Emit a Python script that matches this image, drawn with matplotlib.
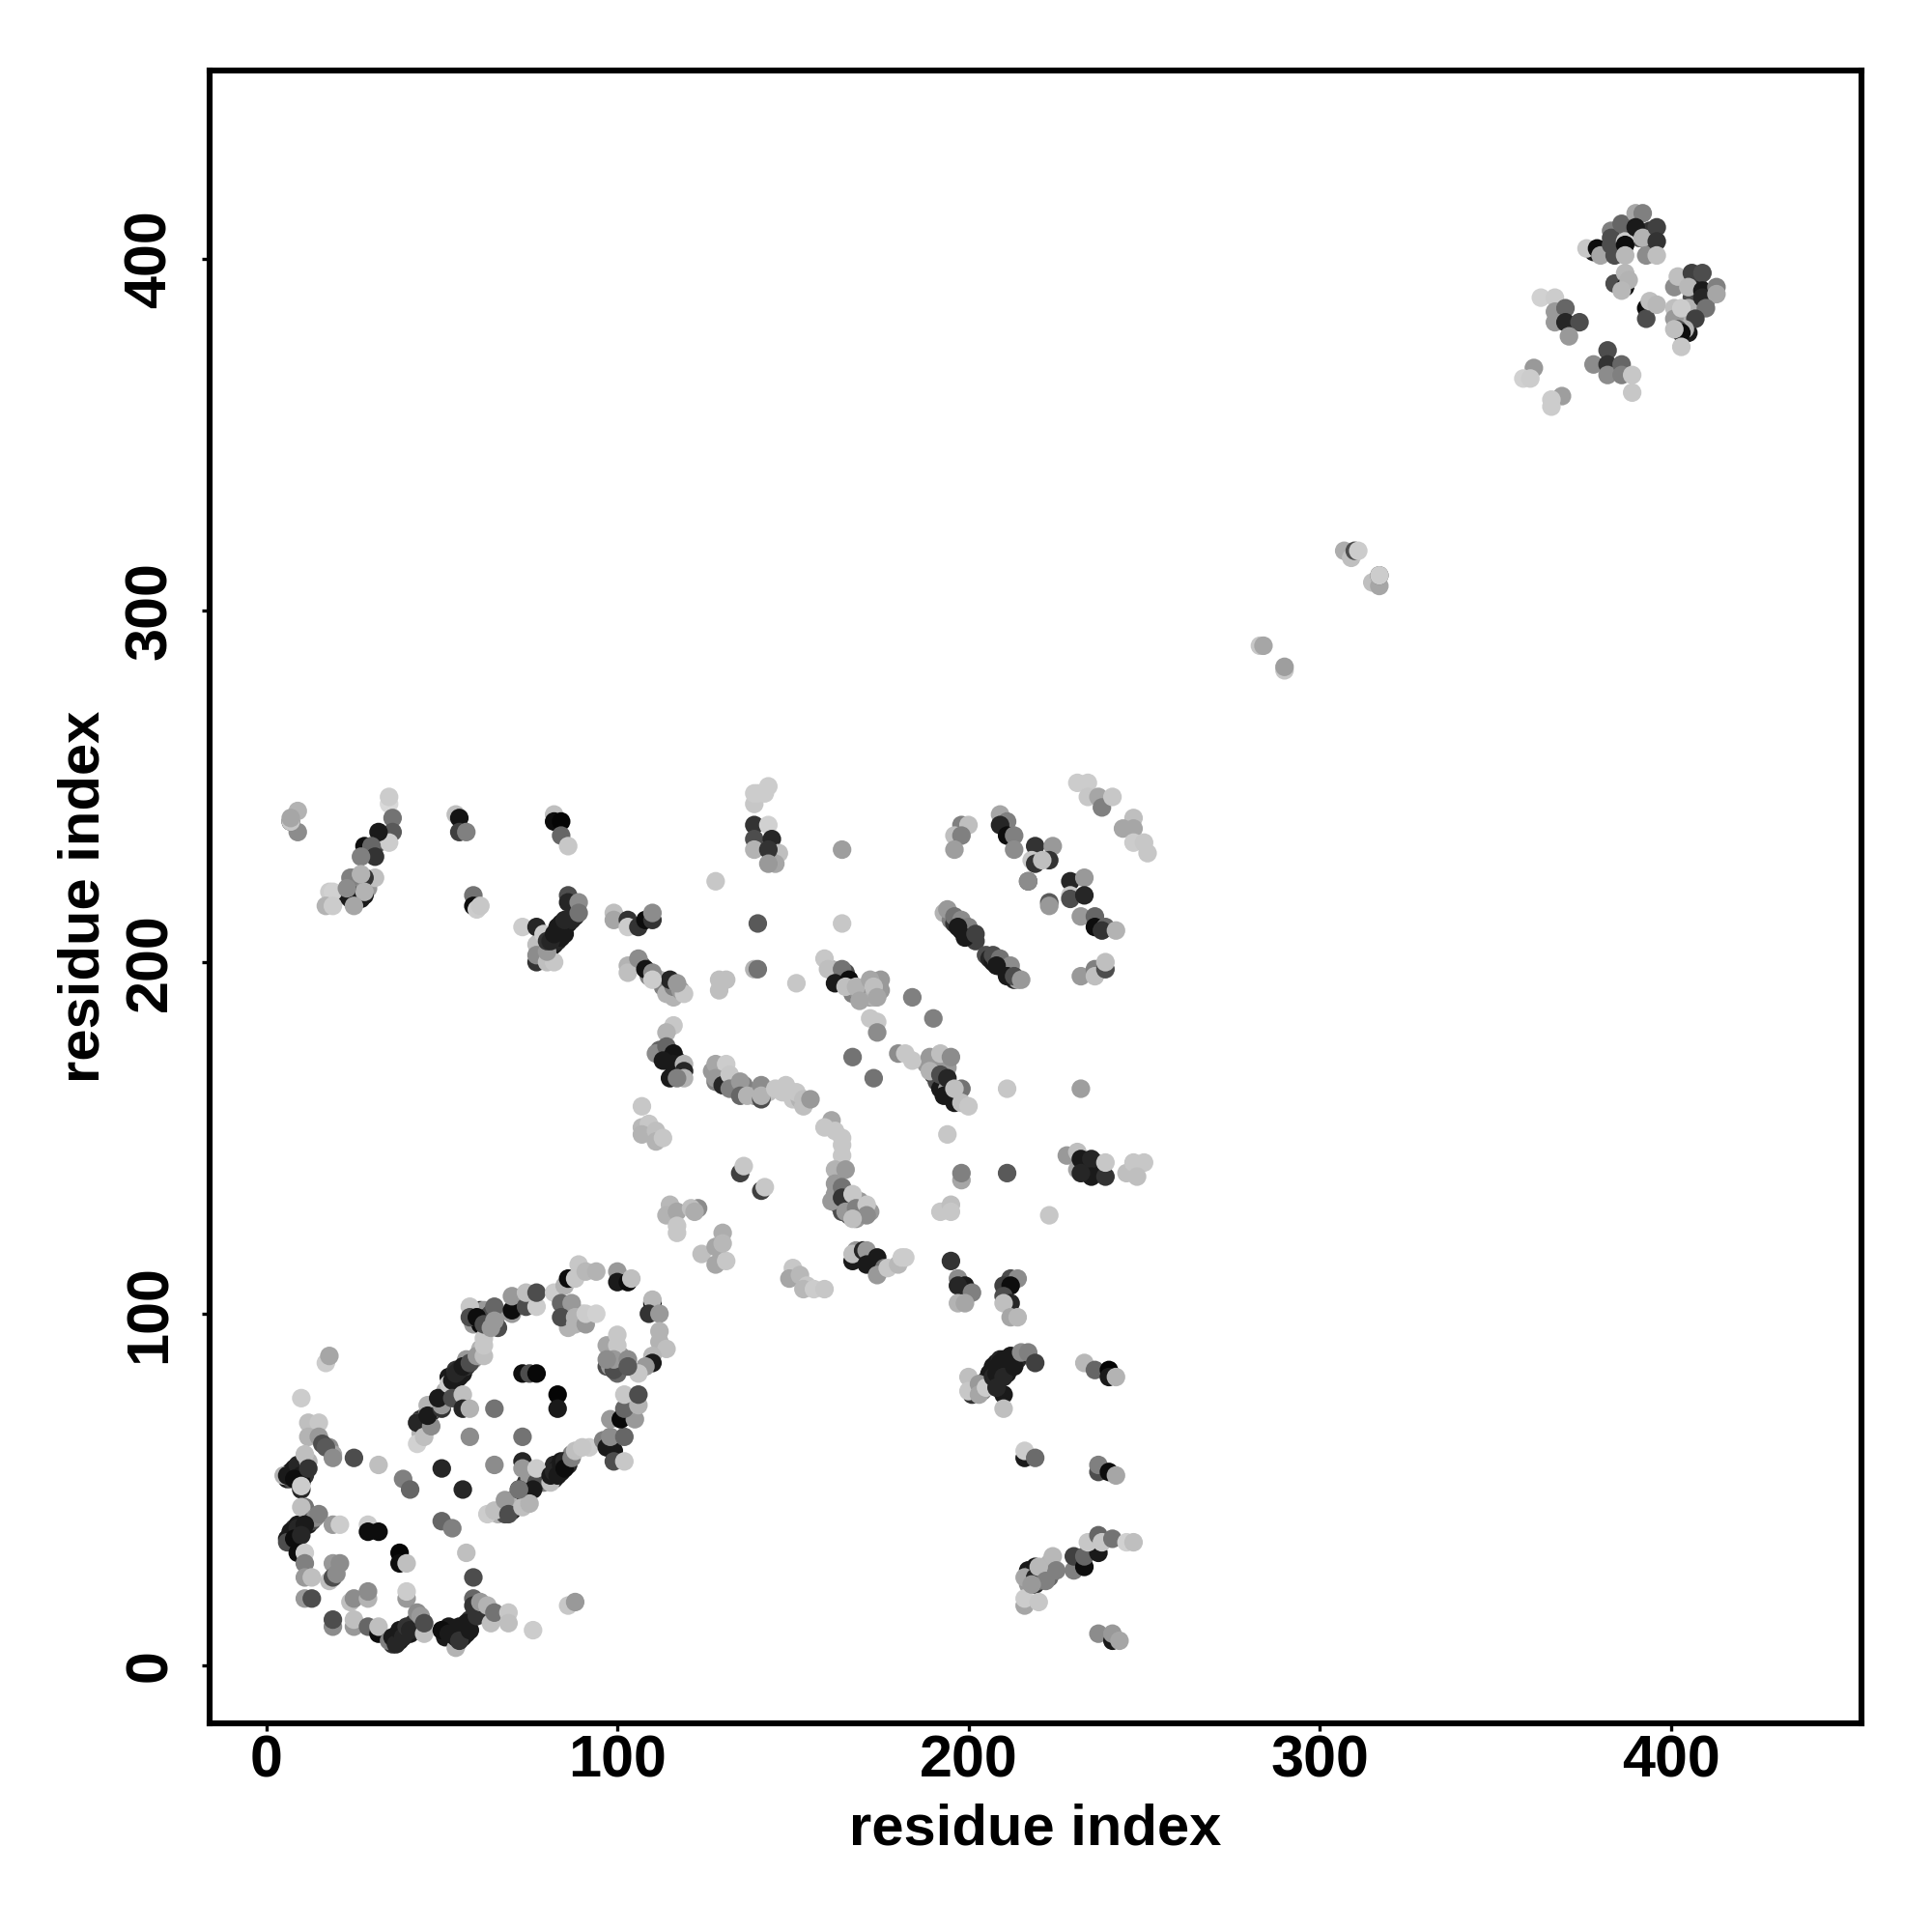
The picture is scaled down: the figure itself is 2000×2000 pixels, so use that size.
import numpy as np
import matplotlib
matplotlib.use('Agg')
import matplotlib.pyplot as plt

plt.rcParams['font.family'] = ['Liberation Sans', 'DejaVu Sans']
plt.rcParams['font.weight'] = 'bold'

# under layer, the contacts that are mostly hidden inside the dense bands
u1_x = [6,7,8,9,9,7,11,11,7,8,9,10,8,9,12,12]
u1_y = [53,55,55,55,53,53,56,54,36,38,37,39,39,40,42,40]
u1_g = [.1,.1,.1,.15,.1,.3,.2,.2,.1,.1,.1,.1,.2,.1,.3,.1]

u2_x = [36,37,38,39,40,41,42,51,52,53,54,56,56,57,58,60,61]
u2_y = [6,8,7,10,9,9,12,8,11,8,10,8,10,9,13,16,15]
u2_g = [.2,.1,.1,.1,.15,.1,.2,.1,.1,.1,.1,.1,.1,.1,.2,.3,.6]

u3_x = [44,44,45,46,47,48,49,51,52,53,54,54,55,56,57,57,59,61]
u3_y = [66,70,68,72,72,73,75,78,82,80,81,84,82,83,85,87,87,90]
u3_g = [.7,.2,.6,.5,.1,.7,.7,.7,.1,.1,.1,.2,.1,.1,.2,.6,.6,.7]

u4_x = [59,61,61,62,63,64,66,66]
u4_y = [97,101,97,101,99,100,100,96]
u4_g = [.6,.2,.05,.6,.1,.3,.6,.3]

u5_x = [78,79,80,81,82,82,83,84,84,86,86,87]
u5_y = [52,52,54,55,53,57,56,55,58,57,58,60]
u5_g = [.75,.5,.1,.1,.1,.15,.1,.1,.1,.15,.2,.5]

u6_x = [66,67,68,70,70,71,72,74,74,75,75,77]
u6_y = [43,44,43,44,47,47,46,48,52,50,53,52]
u6_g = [.7,.6,.3,.1,.5,.1,.7,.1,.2,.75,.6,.3]

u7_x = [81,82,83,83,84,85,85,86,87,88,80,79,78]
u7_y = [204,205,206,208,207,208,210,211,212,213,201,205,206]
u7_g = [.1,.1,.15,.1,.1,.1,.1,.1,.15,.15,.6,.2,.7]

u8_x = [22,24,26,27,29,26,27,24,25,29,32,33]
u8_y = [219,218,218,218,221,222,222,222,221,232,234,236]
u8_g = [.7,.1,.1,.1,.6,.4,.6,.5,.7,.3,.3,.4]

u9_x = [161,163,164,165,167,167,169,170,171,172,173,175,175]
u9_y = [198,195,194,197,193,191,191,191,192,190,190,195,192]
u9_g = [.7,.15,.7,.3,.1,.5,.6,.4,.2,.6,.7,.6,.6]

u10_x = [112,113,114,115,116,117,117,116,118,118]
u10_y = [175,173,172,173,172,172,170,168,170,168]
u10_g = [.4,.1,.1,.3,.1,.4,.6,.1,.1,.6]

u11_x = [127,128,129,130,130,131,133,134,136,137,139,143,147,150,152]
u11_y = [169,166,168,166,168,166,165,164,165,163,162,163,163,161,161]
u11_g = [.6,.5,.1,.5,.3,.2,.3,.6,.5,.5,.6,.75,.78,.78,.7]

u12_x = [163,164,165,166,166,167,168,169,170,169,172,162,161]
u12_y = [131,129,132,131,128,130,127,130,129,132,129,134,132]
u12_g = [.5,.3,.1,.5,.3,.2,.6,.3,.5,.6,.6,.6,.6]

u13_x = [188,190,190,191,192,191,193,192,194,195,196,194]
u13_y = [171,172,168,170,171,166,165,164,164,162,160,170]
u13_g = [.6,.3,.2,.4,.6,.3,.2,.1,.6,.3,.1,.6]

u14_x = [193,195,196,198,199,200,201,202,205,206,207,208,209,210,211,212,213,214]
u14_y = [214,212,211,209,209,208,207,206,202,201,200,200,199,198,197,197,195,195]
u14_g = [.7,.5,.2,.1,.45,.2,.3,.25,.3,.15,.1,.5,.1,.55,.2,.5,.15,.65]

u15_x = [205,206,206,207,208,209,209,211,211,213,214,204]
u15_y = [81,83,80,85,86,84,87,85,83,87,87,78]
u15_g = [.15,.1,.1,.1,.1,.1,.15,.1,.1,.1,.15,.5]

u16_x = [233,234,236,236,237,238,107,109,112,113,114,116,116,118,119]
u16_y = [142,141,140,143,140,141,199,196,195,193,191,190,193,192,191]
u16_g = [.1,.1,.3,.1,.1,.1,.3,.5,.7,.5,.7,.7,.5,.6,.78]

u17_x = [378,381,384,385,389,391,394,394,383,385]
u17_y = [402,402,403,405,408,406,408,404,408,402]
u17_g = [.1,.3,.4,.3,.2,.3,.2,.3,.5,.7]

u18_x = [404,407,408,410,402,404,405,404,406,405]
u18_y = [394,394,392,388,382,383,379,384,389,386]
u18_g = [.2,.3,.15,.5,.3,.15,.1,.7,.3,.7]

u19_x = [97,101,101,98,100,86,86,89,90,217,217,218,219,220,220,222,223,223]
u19_y = [85,88,86,85,83,100,96,99,100,23,27,26,23,24,25,26,25,29]
u19_g = [.3,.6,.5,.6,.4,.6,.7,.7,.8,.6,.1,.2,.15,.4,.7,.6,.4,.7]

# each cluster: residue x, residue y, gray level
a1_x = [17,18,10,12,15,12,15,18,19,16,17,19,25,32]
a1_y = [86,88,76,69,69,65,65,62,60,63,62,59,59,57]
a1_g = [.8,.65,.8,.75,.78,.7,.6,.55,.65,.3,.35,.55,.3,.75]

a2_x = [5,6,8,9,10,8,10,10,10,12,11,12]
a2_y = [54,54,56,57,54,53,52,50,51,58,60,56]
a2_g = [.7,.1,.1,.15,.1,.05,.05,.15,.8,.7,.75,.2]

a3_x = [11,10,13,14,15,19,21,6,7,9,11,6,8,10,9,11,11,11,13,11,13]
a3_y = [45,45,41,42,43,40,40,36,38,39,40,35,36,37,32,32,29,25,25,19,19]
a3_g = [.45,.75,.3,.55,.5,.6,.8,.1,.1,.15,.1,.3,.05,.15,.05,.8,.5,.6,.75,.6,.3]

a4_x = [19,21,18,19,20,29,29,32,38,38,40,39,41,50,53,57,59,50,56]
a4_y = [29,29,24,25,26,40,38,38,32,29,29,53,50,41,39,32,25,56,50]
a4_g = [.6,.55,.75,.3,.55,.8,.05,.05,.02,.05,.75,.5,.4,.4,.5,.75,.3,.15,.15]

a5_x = [19,19,24,25,29,29,40,40,25,25,29,32,32]
a5_y = [11,13,18,19,19,21,19,21,11,13,11,9,11]
a5_g = [.55,.3,.75,.55,.7,.55,.6,.8,.6,.75,.4,.05,.75]

a6_x = [35,36,37,38,39,40,41,43,44,45,45]
a6_y = [7,8,6,10,8,11,10,15,14,9,12]
a6_g = [.5,.1,.15,.1,.15,.2,.15,.55,.6,.75,.3]

a7_x = [50,54,52,54,55,55,57,58,59,59,60,61,63,64,65,69,69,76,86,88]
a7_y = [10,5,9,8,11,7,12,10,19,17,14,18,17,12,15,15,12,10,17,18]
a7_g = [.05,.7,.1,.1,.1,.2,.1,.1,.4,.2,.2,.6,.7,.75,.45,.78,.75,.8,.78,.6]

b1_x = [43,43,43,45,46,47,46,50,50,49,52,53,54,55,53,56,56,58,56,58,60,62,62,62]
b1_y = [63,69,69,65,74,68,71,73,74,76,80,81,83,84,76,77,73,73,85,86,88,88,91,93]
b1_g = [.82,.7,.15,.75,.7,.55,.1,.2,.6,.1,.8,.1,.15,.15,.3,.75,.15,.7,.1,.3,.6,.75,.78,.78]

b2_x = [58,58,60,62,64,65,65,70,70,70,74,74,77,77]
b2_y = [102,99,99,97,96,102,98,100,101,105,102,106,102,106]
b2_g = [.78,.3,.05,.3,.6,.4,.6,.6,.05,.6,.3,.75,.8,.3]

c1_x = [73,75,77,83,83,65,58,73,65,73,73,77,76,72]
c1_y = [83,83,83,77,73,73,65,65,57,58,56,56,50,50]
c1_g = [.05,.3,.03,.02,.1,.45,.55,.45,.55,.15,.6,.8,.1,.15]

d1_x = [63,65,68,69,73,75,72,81,81,82,84,85,83,85,87,88,92,90]
d1_y = [43,44,47,43,45,46,50,52,54,55,57,58,54,56,59,61,62,62]
d1_g = [.8,.75,.6,.3,.75,.7,.45,.75,.1,.15,.1,.15,.1,.05,.5,.75,.8,.78]

d2_x = [96,97,99,99,102,98,102,98,101,105,102,106,102,106]
d2_y = [64,62,61,58,58,65,65,70,70,70,73,74,77,77]
d2_g = [.5,.1,.1,.3,.78,.55,.4,.6,.03,.6,.4,.7,.78,.3]

e1_x = [82,85,86,88,89,91,94,100,100,103,104]
e1_y = [106,108,110,110,114,112,112,112,109,109,110]
e1_g = [.8,.7,.05,.78,.78,.72,.7,.6,.1,.05,.75]

e2_x = [110,110,109,112,112,112,114,110,110,108,106]
e2_y = [103,104,100,100,95,92,90,88,86,85,83]
e2_g = [.05,.72,.2,.6,.7,.7,.75,.72,.1,.6,.78]

e3_x = [97,100,100,99,99,103,103,97,84,87,84,88,88,91,91,94]
e3_y = [91,94,91,84,87,87,85,87,103,103,99,99,97,97,100,100]
e3_g = [.65,.78,.78,.3,.6,.55,.35,.55,.4,.6,.3,.7,.7,.6,.8,.82]

f1_x = [7,9,9,7,7,35,35,36,36,35,32,28,30,31,27]
f1_y = [240,237,243,240,241,245,247,241,237,234,237,233,233,230,230]
f1_g = [.1,.55,.7,.78,.65,.85,.8,.45,.35,.8,.1,.05,.4,.2,.5]

f2_x = [31,28,25,24,27,23,25,28,28,25,18,19,17,19,23]
f2_y = [224,224,224,224,225,219,219,219,220,216,220,220,216,216,221]
f2_g = [.75,.2,.55,.5,.7,.1,.1,.1,.7,.65,.8,.82,.7,.8,.55]

f3_x = [54,55,55,57,82,82,84,84,86,59,59,60,61]
f3_y = [242,241,237,237,242,240,240,236,233,219,216,215,216]
f3_g = [.75,.08,.25,.5,.75,.05,.02,.4,.78,.45,.05,.8,.78]

f4_x = [73,77,77,77,77,80,82,80,79,80,81,82,83,84,85,86,86,88,89,89]
f4_y = [210,210,205,200,202,200,200,203,208,206,206,208,210,211,212,219,217,215,217,214]
f4_g = [.8,.15,.75,.2,.55,.75,.78,.6,.8,.2,.15,.1,.1,.1,.15,.3,.15,.15,.55,.45]

f5_x = [99,99,103,103,106,108,110,110,103,103,106,108,110,115,110,117]
f5_y = [214,212,212,210,210,212,212,214,199,197,201,198,197,195,195,194]
f5_g = [.75,.65,.2,.8,.2,.05,.2,.55,.7,.75,.55,.08,.55,.15,.8,.6]

g1_x = [139,143,139,142,140,139,143,139,139,144,146,145,143,143]
g1_y = [245,250,248,248,248,239,239,235,232,235,231,228,232,228]
g1_g = [.78,.8,.8,.8,.8,.2,.82,.3,.7,.15,.75,.65,.2,.6]

g2_x = [164,128,140,164,139,140,129,131,129,151]
g2_y = [232,223,211,211,198,198,195,195,192,194]
g2_g = [.62,.78,.35,.78,.7,.45,.75,.75,.75,.78]

g3_x = [159,160,164,162,166,165,168,172,173,174,169,172,174,174]
g3_y = [201,198,198,194,195,193,193,195,193,190,189,184,183,180]
g3_g = [.78,.75,.45,.1,.05,.75,.7,.65,.75,.65,.65,.78,.78,.55]

g4_x = [184,190,167,173,180,182,184]
g4_y = [190,184,173,167,174,174,172]
g4_g = [.5,.5,.45,.45,.55,.78,.78]

g5_x = [189,192,195,189,192,194,193,198,196,198,200,211,232,194]
g5_y = [173,174,173,169,168,167,162,164,164,160,159,164,164,151]
g5_g = [.6,.75,.55,.7,.3,.15,.1,.45,.75,.75,.78,.78,.62,.78]

g6_x = [198,198,211,192,195,195,223]
g6_y = [138,140,140,129,131,129,128]
g6_g = [.65,.5,.35,.78,.75,.78,.78]

g7_x = [228,231,231,232,235,235,232,239,239,245,247,250,248]
g7_y = [145,146,141,144,144,139,140,139,143,140,143,143,139]
g7_g = [.6,.75,.65,.1,.15,.1,.15,.2,.78,.75,.78,.78,.75]

h1_x = [198,200,196,198,196,209,211,209,211,213,213]
h1_y = [239,239,236,236,232,242,240,239,236,236,232]
h1_g = [.5,.75,.75,.5,.62,.65,.5,.15,.05,.5,.55]

h2_x = [219,224,218,219,223,221,217,217,229,233,229,229,233,223,223]
h2_y = [233,233,229,228,229,229,223,223,223,224,219,218,219,217,216]
h2_g = [.2,.6,.78,.2,.2,.75,.3,.55,.15,.6,.78,.3,.15,.35,.6]

h3_x = [232,236,236,239,238,242,232,236,236,239,239]
h3_y = [213,213,210,210,209,209,196,198,196,198,200]
h3_g = [.6,.4,.05,.4,.2,.7,.6,.5,.75,.3,.75]

h4_x = [231,234,234,237,238,241,247,244,247,247,250,251]
h4_y = [251,251,247,247,244,247,241,238,238,234,234,231]
h4_g = [.8,.8,.78,.65,.5,.78,.75,.65,.65,.8,.78,.78]

i1_x = [194,196,198,200,197,199,202]
i1_y = [215,213,212,210,210,207,208]
i1_g = [.6,.45,.55,.5,.1,.1,.25]

i2_x = [207,209,212,208,211,213,215]
i2_y = [202,201,199,199,196,196,195]
i2_g = [.3,.45,.55,.1,.1,.3,.6]

j1_x = [116,114,111,114,116,113,116,119,119,115,119,117]
j1_y = [182,180,174,176,174,172,171,171,169,167,167,167]
j1_g = [.78,.7,.55,.4,.08,.1,.1,.7,.15,.1,.7,.5]

j2_x = [128,131,128,130,132,132,135,135,137,141,141,141,145,148,151,153,153,155]
j2_y = [171,171,167,165,168,164,166,162,162,165,161,162,164,165,163,159,161,161]
j2_g = [.65,.8,.6,.15,.78,.5,.6,.4,.7,.55,.3,.7,.78,.78,.78,.75,.75,.6]

j3_x = [107,107,109,107,111,111,113]
j3_y = [159,153,154,151,152,149,150]
j3_g = [.78,.72,.78,.7,.75,.7,.78]

k1_x = [161,159,162,164,164,164,162,165,162,164,164,165,167,168,171,171,167]
k1_y = [155,153,152,150,148,145,141,141,137,136,133,129,134,130,131,128,127]
k1_g = [.65,.78,.78,.78,.78,.78,.7,.6,.6,.45,.2,.6,.78,.5,.78,.55,.75]

k2_x = [115,114,117,123,121,135,136,141,142,117,117]
k2_y = [131,128,129,130,130,140,142,135,136,125,123]
k2_g = [.72,.7,.65,.55,.75,.25,.78,.25,.78,.78,.78]

k3_x = [122,124,130,128,128,131,130]
k3_y = [129,117,123,119,114,115,120]
k3_g = [.68,.75,.68,.65,.65,.78,.72]

k4_x = [150,149,152,154,153,156,159]
k4_y = [113,110,111,108,107,107,107]
k4_g = [.78,.65,.72,.78,.72,.8,.78]

k5_x = [168,167,167,170,171,171,174,176,174,177,180,181,182]
k5_y = [118,115,117,118,118,114,116,113,111,113,114,116,116]
k5_g = [.6,.1,.75,.15,.6,.1,.1,.45,.6,.78,.72,.8,.8]

m1_x = [195,197,199,197,201,197,199,212,214,210,212,210,212,210,212,214]
m1_y = [115,110,108,108,106,103,103,110,110,108,108,105,103,103,99,99]
m1_g = [.2,.55,.1,.15,.5,.7,.65,.3,.55,.25,.05,.3,.15,.75,.65,.72]

m2_x = [200,201,200,203,203,205,207,209,210,212,208,210,213,215,217,219,210,208]
m2_y = [82,77,78,80,77,79,82,86,87,88,83,82,85,89,89,86,77,79]
m2_g = [.75,.2,.78,.6,.65,.8,.15,.1,.1,.1,.1,.15,.1,.55,.5,.25,.1,.15]

m3_x = [210,233,236,240,240,242,216,216,219,237,237,240,242]
m3_y = [73,86,84,84,82,82,59,61,59,55,57,55,54]
m3_g = [.75,.72,.4,.02,.1,.7,.1,.8,.42,.3,.5,.05,.65]

n1_x = [224,225,219,216,219,220,222,216,216,220,218]
n1_y = [31,27,28,25,25,28,24,17,19,18,23]
n1_g = [.72,.5,.1,.65,.15,.72,.5,.65,.8,.78,.6]

n2_x = [230,230,233,233,237,234,237,238,241,245,247,237,241,241,243]
n2_y = [27,31,28,31,32,35,37,35,36,35,35,9,7,9,7]
n2_g = [.5,.25,.05,.4,.1,.78,.4,.78,.45,.82,.75,.55,.1,.6,.65]

p1_x = [283,284,290,290,307,309,310,311,315,317,317,317]
p1_y = [290,290,283,284,317,315,317,317,308,307,310,310]
p1_g = [.78,.65,.78,.62,.68,.75,.3,.8,.75,.65,.3,.8]

q1_x = [363,367,367,370,367,370,374,371,361,358,360,369,366,366]
q1_y = [389,389,385,386,382,382,382,378,369,366,366,361,360,358]
q1_g = [.82,.8,.6,.4,.6,.15,.3,.6,.6,.82,.8,.62,.8,.8]

q2_x = [378,382,382,382,386,386,389,389]
q2_y = [370,374,370,367,370,367,362,367]
q2_g = [.55,.3,.2,.55,.4,.5,.78,.78]

q3_x = [376,379,380,383,383,384,386,387,387,387,390,392,390,392,393,396,396,396]
q3_y = [403,403,401,406,404,401,410,405,404,401,413,413,409,406,401,409,405,401]
q3_g = [.78,.05,.65,.3,.3,.3,.4,.8,.05,.72,.65,.5,.1,.7,.55,.25,.2,.75]

q4_x = [384,387,387,388,386,393,393,394,396]
q4_y = [393,396,392,394,391,386,383,388,387]
q4_g = [.3,.72,.05,.7,.72,.05,.3,.75,.72]

q5_x = [401,402,406,409,405,409,409,413,413,410,401,401,403,407,404,402,403,401,403]
q5_y = [392,395,396,396,392,391,389,392,390,386,386,383,386,383,380,380,379,380,375]
q5_g = [.55,.75,.25,.3,.72,.1,.15,.5,.65,.45,.75,.6,.8,.25,.7,.3,.05,.75,.78]

clusters = [
    (u1_x, u1_y, u1_g), (u2_x, u2_y, u2_g), (u3_x, u3_y, u3_g), (u4_x, u4_y, u4_g),
    (u5_x, u5_y, u5_g), (u6_x, u6_y, u6_g), (u7_x, u7_y, u7_g), (u8_x, u8_y, u8_g),
    (u9_x, u9_y, u9_g), (u10_x, u10_y, u10_g), (u11_x, u11_y, u11_g), (u12_x, u12_y, u12_g),
    (u13_x, u13_y, u13_g), (u14_x, u14_y, u14_g), (u15_x, u15_y, u15_g), (u16_x, u16_y, u16_g),
    (u17_x, u17_y, u17_g), (u18_x, u18_y, u18_g), (u19_x, u19_y, u19_g),
    (a1_x, a1_y, a1_g), (a2_x, a2_y, a2_g), (a3_x, a3_y, a3_g), (a4_x, a4_y, a4_g),
    (a5_x, a5_y, a5_g), (a6_x, a6_y, a6_g), (a7_x, a7_y, a7_g), (b1_x, b1_y, b1_g),
    (b2_x, b2_y, b2_g), (c1_x, c1_y, c1_g), (d1_x, d1_y, d1_g), (d2_x, d2_y, d2_g),
    (e1_x, e1_y, e1_g), (e2_x, e2_y, e2_g), (e3_x, e3_y, e3_g), (f1_x, f1_y, f1_g),
    (f2_x, f2_y, f2_g), (f3_x, f3_y, f3_g), (f4_x, f4_y, f4_g), (f5_x, f5_y, f5_g),
    (g1_x, g1_y, g1_g), (g2_x, g2_y, g2_g), (g3_x, g3_y, g3_g), (g4_x, g4_y, g4_g),
    (g5_x, g5_y, g5_g), (g6_x, g6_y, g6_g), (g7_x, g7_y, g7_g), (h1_x, h1_y, h1_g),
    (h2_x, h2_y, h2_g), (h3_x, h3_y, h3_g), (h4_x, h4_y, h4_g), (i1_x, i1_y, i1_g),
    (i2_x, i2_y, i2_g), (j1_x, j1_y, j1_g), (j2_x, j2_y, j2_g), (j3_x, j3_y, j3_g),
    (k1_x, k1_y, k1_g), (k2_x, k2_y, k2_g), (k3_x, k3_y, k3_g), (k4_x, k4_y, k4_g),
    (k5_x, k5_y, k5_g), (m1_x, m1_y, m1_g), (m2_x, m2_y, m2_g), (m3_x, m3_y, m3_g),
    (n1_x, n1_y, n1_g), (n2_x, n2_y, n2_g), (p1_x, p1_y, p1_g), (q1_x, q1_y, q1_g),
    (q2_x, q2_y, q2_g), (q3_x, q3_y, q3_g), (q4_x, q4_y, q4_g), (q5_x, q5_y, q5_g),
]
ticks = [0, 100, 200, 300, 400]

fig = plt.figure(figsize=(10, 10), dpi=200)
ax = fig.add_axes([217/2000, 1 - 1784/2000, (1927 - 217)/2000, (1784 - 73)/2000])

for cx, cy, cg in clusters:
    if not (len(cx) == len(cy) == len(cg)):
        print('length mismatch', cx[:3], len(cx), len(cy), len(cg))
    n = min(len(cx), len(cy), len(cg))
    ax.scatter(cx[:n], cy[:n], s=48, c=[str(v) for v in cg[:n]], linewidths=0, zorder=2)

ax.set_xlim(-16.1, 454.3)
ax.set_ylim(-16.5, 453.6)
ax.set_xticks(ticks)
ax.set_yticks(ticks)
ax.tick_params(axis='x', length=3, width=1.2, labelsize=22, pad=1)
ax.tick_params(axis='y', length=3, width=1.2, labelsize=22, pad=8.5)
plt.setp(ax.get_yticklabels(), rotation=90, va='center')
for s in ax.spines.values():
    s.set_linewidth(2.2)
ax.set_xlabel('residue index', fontsize=21.5, fontweight='bold', labelpad=5)
ax.set_ylabel('residue index', fontsize=21.5, fontweight='bold', labelpad=5)

fig.savefig('out.png', dpi=200)
